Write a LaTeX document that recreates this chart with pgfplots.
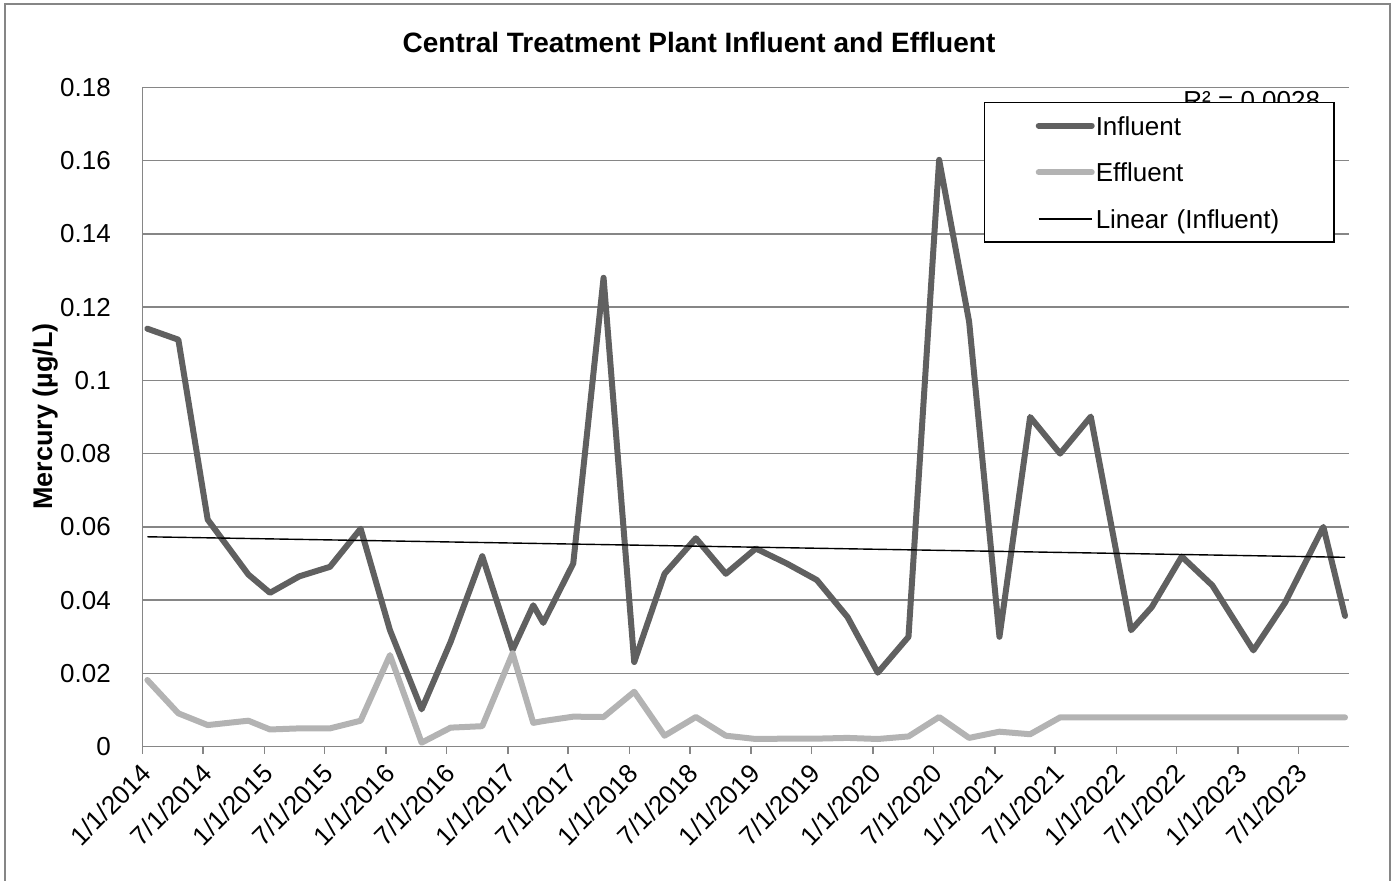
\documentclass[border=0pt]{standalone}
\usepackage{fontspec}
\setmainfont{Liberation Sans}
\usepackage{pgfplots}
\usepackage{pgfplotstable}
\pgfplotsset{compat=1.18}
\definecolor{infl}{RGB}{96,96,96}
\definecolor{effl}{RGB}{179,179,179}
\definecolor{gridgray}{RGB}{134,134,134}

% day = days since 1/1/2014
\pgfplotstableread{
day inf eff
14 0.1141 0.0182
107 0.1111 0.0091
195 0.0620 0.0059
317 0.0470 0.0071
382 0.0420 0.0047
470 0.0465 0.0050
562 0.0491 0.0050
654 0.0595 0.0071
742 0.0318 0.0250
837 0.0102 0.0011
924 0.0286 0.0052
1019 0.0520 0.0056
1110 0.0264 0.0255
1172 0.0386 0.0065
1202 0.0338 0.0070
1292 0.0500 0.0082
1383 0.1280 0.0081
1475 0.0231 0.0150
1566 0.0472 0.0030
1660 0.0569 0.0081
1750 0.0472 0.0030
1840 0.0541 0.0021
1933 0.0500 0.0022
2023 0.0455 0.0022
2115 0.0354 0.0024
2206 0.0202 0.0021
2298 0.0300 0.0028
2390 0.1602 0.0081
2480 0.1160 0.0024
2571 0.0300 0.0041
2663 0.0900 0.0034
2753 0.0800 0.0080
2845 0.0901 0.0080
2966 0.0318 0.0080
3028 0.0381 0.0080
3118 0.0519 0.0080
3210 0.0440 0.0080
3333 0.0263 0.0080
3428 0.0393 0.0080
3543 0.0600 0.0080
3608 0.0357 0.0080
}\mercury

\begin{document}
\begin{tikzpicture}
\useasboundingbox (0,0) rectangle (697.5pt,440.5pt);
\draw[gridgray, line width=1pt] (2.25pt,-5pt) -- (2.25pt,438.25pt) -- (695pt,438.25pt) -- (695pt,-5pt);
\begin{axis}[
  at={(71.35pt,67.15pt)}, anchor=south west,
  scale only axis, width=603.15pt, height=329.7pt,
  xmin=0, xmax=3620, ymin=0, ymax=0.18,
  axis x line*=bottom, axis y line*=left,
  axis line style={draw=gridgray, line width=0.75pt},
  xtick={0,181,365,546,730,912,1096,1277,1461,1642,1826,2007,2191,2373,2557,2738,2922,3103,3287,3468},
  xticklabels={1/1/2014,7/1/2014,1/1/2015,7/1/2015,1/1/2016,7/1/2016,1/1/2017,7/1/2017,1/1/2018,7/1/2018,1/1/2019,7/1/2019,1/1/2020,7/1/2020,1/1/2021,7/1/2021,1/1/2022,7/1/2022,1/1/2023,7/1/2023},
  ytick={0,0.02,0.04,0.06,0.08,0.1,0.12,0.14,0.16,0.18},
  ymajorgrids,
  major grid style={draw=gridgray, line width=0.75pt},
  tick align=outside,
  major tick length=3.5pt,
  xtick style={draw=gridgray, line width=0.75pt},
  ytick style={draw=none},
  ticklabel style={font=\fontsize{13pt}{15pt}\selectfont, text=black},
  yticklabel style={/pgf/number format/assume math mode=true, /pgf/number format/fixed, /pgf/number format/precision=2, anchor=east, inner sep=0pt, xshift=-12.25pt},
  xticklabel style={xshift=2pt, yshift=-7.5pt, rotate=45, anchor=east, inner sep=0pt},
  legend image code/.code={\path (-25.5pt,0pt); \draw[#1] (0pt,0pt) -- (26.5pt,0pt);},
  legend cell align=left,
  legend style={at={(0.6974,0.9777)}, anchor=north west, draw=black, line width=0.75pt, fill=white,
    font=\fontsize{13pt}{15pt}\selectfont, inner xsep=0pt, inner ysep=5pt, row sep=10.3pt, column sep=0pt,
    nodes={inner xsep=0.5pt, inner ysep=0pt, text width=118.5pt, align=left, text height=11.2pt, text depth=1.8pt}},
  legend entries={Influent, Effluent, Linear (Influent)},
]
\addplot[infl, line width=3pt, line join=round, line cap=round] table[x=day,y=inf]{\mercury};
\addplot[effl, line width=3pt, line join=round, line cap=round] table[x=day,y=eff]{\mercury};
\addplot[black, line width=0.7pt] coordinates {(14,0.0573) (3608,0.0517)};
\node[anchor=base west, inner sep=0pt, font=\fontsize{13pt}{15pt}\selectfont] at (axis cs:3122,0.1740) {R² = 0.0028};
\end{axis}
\node[anchor=base, inner sep=0pt] at (349.5pt,414pt) {\fontsize{14pt}{16pt}\selectfont\bfseries Central Treatment Plant Influent and Effluent};
\node[rotate=90, inner sep=0pt] at (22.75pt,232.15pt) {\fontsize{13.5pt}{16pt}\selectfont\bfseries Mercury (µg/L)};
\end{tikzpicture}
\end{document}
